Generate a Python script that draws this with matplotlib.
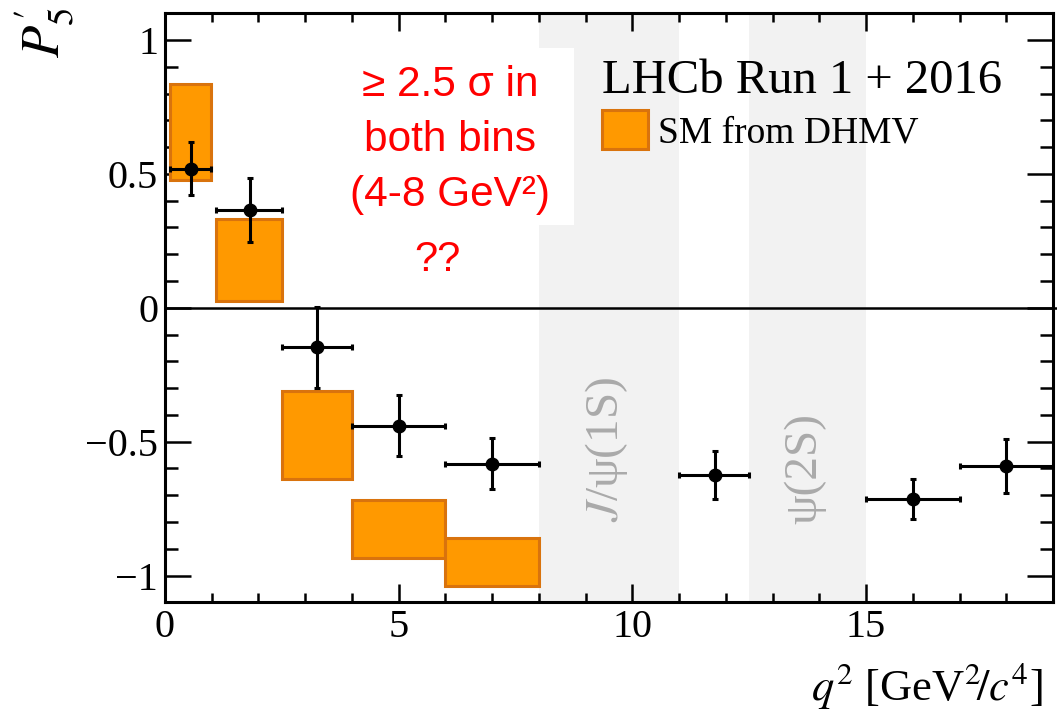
import matplotlib
matplotlib.use("Agg")
import matplotlib.pyplot as plt
from matplotlib.patches import Rectangle
from matplotlib.ticker import MultipleLocator

plt.rcParams['font.family'] = ['Liberation Serif', 'DejaVu Serif']
plt.rcParams['mathtext.fontset'] = 'stix'

# ---- data ----
# LHCb measurements (bins in q^2 and P5' values with errors)
data_lo = [0.1, 1.1, 2.5, 4.0, 6.0, 11.0, 15.0, 17.0]
data_hi = [0.98, 2.5, 4.0, 6.0, 8.0, 12.5, 17.0, 19.0]
data_x = [0.55, 1.81, 3.25, 5.0, 7.0, 11.76, 16.0, 18.0]
data_y = [0.52, 0.364, -0.148, -0.44, -0.583, -0.624, -0.714, -0.591]
data_err = [0.10, 0.12, 0.15, 0.115, 0.095, 0.09, 0.075, 0.10]

# SM predictions (DHMV) boxes
sm_lo = [0.1, 1.1, 2.5, 4.0, 6.0]
sm_hi = [0.98, 2.5, 4.0, 6.0, 8.0]
sm_min = [0.478, 0.024, -0.64, -0.936, -1.04]
sm_max = [0.834, 0.333, -0.31, -0.718, -0.858]

# charmonium vetoed regions
veto_lo = [8.0, 12.5]
veto_hi = [11.0, 15.0]
veto_labels = [r"$J$/\u03c8(1S)", "\u03c8(2S)"]
veto_label_y = [-0.53, -0.60]

fig = plt.figure(figsize=(10.57, 7.10), dpi=100)
ax = fig.add_axes([0.1561, 0.1517, 0.8401, 0.8296])
ax.set_xlim(0, 19)
ax.set_ylim(-1.1, 1.1)

# veto bands
for lo, hi, lab, ly in zip(veto_lo, veto_hi, veto_labels, veto_label_y):
    ax.axvspan(lo, hi, color='#f2f2f2', zorder=0, lw=0)
    ax.text((lo + hi) / 2 - 0.05, ly, lab.encode().decode('unicode_escape') if '\\u' in lab else lab,
            rotation=90, ha='center', va='center',
            color='#aaaaaa', fontsize=34, zorder=1)

# white box behind annotation
ax.add_patch(Rectangle((3.8, 0.31), 8.76 - 3.8, 0.97 - 0.31, facecolor='white',
                       edgecolor='none', zorder=1))

# SM boxes
for lo, hi, mn, mx in zip(sm_lo, sm_hi, sm_min, sm_max):
    ax.add_patch(Rectangle((lo, mn), hi - lo, mx - mn, facecolor='#ff9900',
                           edgecolor='#d9730d', linewidth=2.2, zorder=2))

# zero line
ax.plot([0, 19.12], [0, 0], color='black', lw=1.8, clip_on=False, zorder=3)

# data points
xerr_lo = [x - l for x, l in zip(data_x, data_lo)]
xerr_hi = [h - x for x, h in zip(data_x, data_hi)]
ax.errorbar(data_x, data_y, yerr=data_err, xerr=[xerr_lo, xerr_hi], fmt='o',
            color='black', ms=9, elinewidth=2.2, capsize=2.2, capthick=2.2,
            zorder=4, clip_on=True)

# ticks
ax.xaxis.set_major_locator(MultipleLocator(5))
ax.xaxis.set_minor_locator(MultipleLocator(1))
ax.yaxis.set_major_locator(MultipleLocator(0.5))
ax.yaxis.set_minor_locator(MultipleLocator(0.1))
ax.tick_params(axis='both', which='both', direction='in', top=True, right=True,
               labelsize=29, width=1.8)
ax.tick_params(axis='x', which='major', length=13, pad=5)
ax.tick_params(axis='x', which='minor', length=6.5)
ax.tick_params(axis='y', which='major', length=19, pad=5)
ax.tick_params(axis='y', which='minor', length=9.5)
ax.set_xticks([0, 5, 10, 15])
ax.set_xticklabels(['0', '5', '10', '15'])
ax.set_yticks([-1, -0.5, 0, 0.5, 1])
ax.set_yticklabels(['\u22121', '\u22120.5', '0', '0.5', '1'])
for s in ax.spines.values():
    s.set_linewidth(2.2)

# axis labels
fig.text(1043 / 1057, 1 - 700 / 710, r"$q^2$ [GeV$^2\!/c^4$]", ha='right',
         va='baseline', fontsize=32)
fig.text(12 / 1057, 1 - 8 / 710, r"$P_5'$", rotation=90, ha='left', va='top',
         fontsize=38)

# LHCb label and legend
ax.text(0.492, 0.865, "LHCb Run 1 + 2016", transform=ax.transAxes, fontsize=35,
        ha='left', va='baseline', zorder=5)
ax.add_patch(Rectangle((0.492, 0.7696), 0.0518, 0.0662, transform=ax.transAxes,
                       facecolor='#ff9900', edgecolor='#d9730d', linewidth=2.2,
                       zorder=5))
ax.text(0.555, 0.78, "SM from DHMV", transform=ax.transAxes, fontsize=27,
        ha='left', va='baseline', zorder=5)

# red annotation
red_lines = ["\u2265 2.5 \u03c3 in", "both bins", "(4-8 GeV\u00b2)"]
red_y = [0.831, 0.627, 0.421]
for t, y in zip(red_lines, red_y):
    ax.text(6.1, y, t, color='red', fontsize=30.5, ha='center', va='center',
            family=['Liberation Sans', 'DejaVu Sans'], zorder=5)
ax.text(5.83, 0.18, "??", color='red', fontsize=30, ha='center', va='center',
        family=['Liberation Sans', 'DejaVu Sans'], zorder=5)

fig.savefig("out.png", dpi=100)
